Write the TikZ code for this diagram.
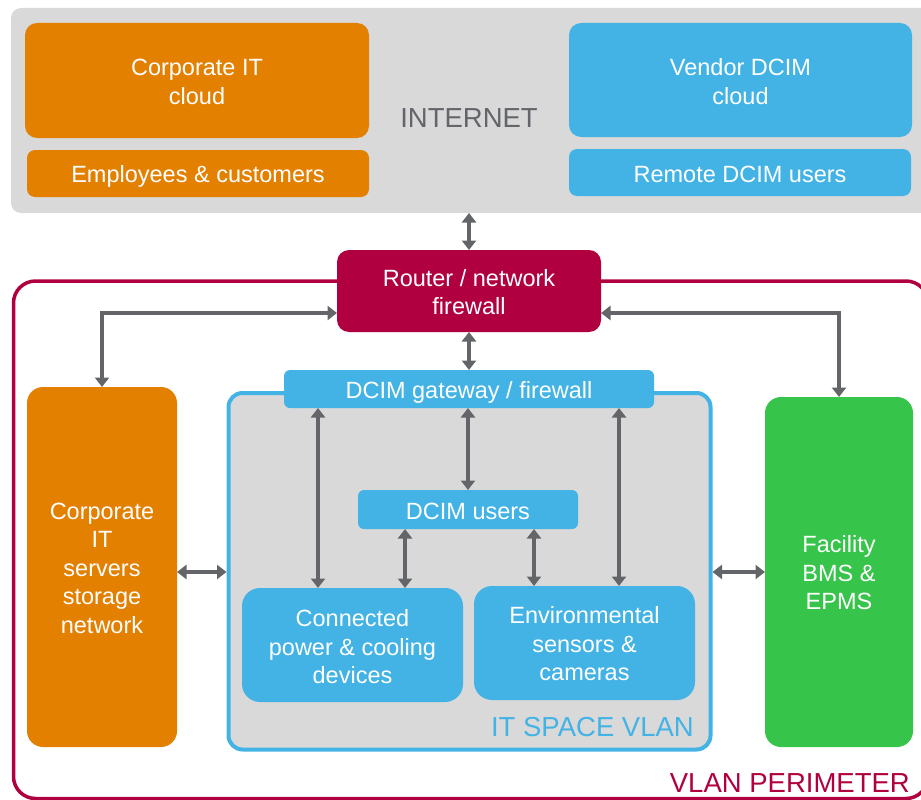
\documentclass[tikz,border=0pt]{standalone}
\usepackage{fontspec}
\setmainfont{Liberation Sans}
\usetikzlibrary{arrows.meta}
\definecolor{corange}{HTML}{E48000}
\definecolor{cblue}{HTML}{43B3E5}
\definecolor{ccrimson}{HTML}{B0003F}
\definecolor{cgreen}{HTML}{37C44A}
\definecolor{cgraybg}{HTML}{D9D9D9}
\definecolor{carrow}{HTML}{636569}
\definecolor{ctext}{HTML}{63656A}
\tikzset{
  box/.style={inner sep=0pt, outer sep=0pt},
  txt/.style={inner sep=0pt, align=center, text=white,
    font=\fontsize{23.5}{28.5}\selectfont},
  biglabel/.style={inner sep=0pt, font=\fontsize{27.5}{32}\selectfont},
  arr/.style={draw=carrow, line width=4.3pt, >={Triangle[length=9.5pt,width=14pt]}, <->},
}
\begin{document}
\begin{tikzpicture}[x=1pt,y=-1pt]
\useasboundingbox (0,0) rectangle (921,800);
\clip (0,0) rectangle (921,800);
% Internet area
\node[box, fill=cgraybg, rounded corners=10pt, minimum width=924pt, minimum height=205pt] (internet) at (473,110.5) {};
\node[biglabel, text=ctext] (internettxt) at (469,118.5) {INTERNET};
\node[box, fill=corange, rounded corners=12pt, minimum width=344pt, minimum height=115pt] (cloud) at (197,80.5) {};
\node[txt] (cloudtxt) at ([yshift=-1.5pt]cloud.center) {Corporate IT\\cloud};
\node[box, fill=corange, rounded corners=8pt, minimum width=342pt, minimum height=47pt] (emp) at (198,173.5) {};
\node[txt] (emptxt) at ([yshift=-2.5pt]emp.center) {Employees \& customers};
\node[box, fill=cblue, rounded corners=12pt, minimum width=343pt, minimum height=114pt] (vcloud) at (740.5,80) {};
\node[txt] (vcloudtxt) at ([yshift=-1.5pt]vcloud.center) {Vendor DCIM\\cloud};
\node[box, fill=cblue, rounded corners=8pt, minimum width=342pt, minimum height=47pt] (remote) at (740,172.5) {};
\node[txt] (remotetxt) at ([yshift=-2pt]remote.center) {Remote DCIM users};
% VLAN perimeter
\node[draw=ccrimson, line width=3.5pt, rounded corners=22pt, inner sep=0pt, minimum width=914.5pt, minimum height=517.5pt] (perimeter) at (470.75,539.75) {};
\node[biglabel, text=ccrimson, anchor=east] (perimtxt) at (910,783) {VLAN PERIMETER};
\node[box, fill=ccrimson, rounded corners=12pt, minimum width=264pt, minimum height=82pt] (router) at (469,291) {};
\node[txt] (routertxt) at ([yshift=-1pt]router.center) {Router / network\\firewall};
\node[box, fill=corange, rounded corners=16pt, minimum width=150pt, minimum height=360pt] (servers) at (102,567) {};
\node[txt] (serverstxt) at ([yshift=-1pt]servers.center) {Corporate\\IT\\servers\\storage\\network};
\node[box, fill=cgreen, rounded corners=16pt, minimum width=148pt, minimum height=350pt] (facility) at (839,572) {};
\node[txt] (facilitytxt) at ([yshift=-1pt]facility.center) {Facility\\BMS \&\\EPMS};
% IT space VLAN
\node[draw=cblue, fill=cgraybg, line width=4pt, rounded corners=14pt, inner sep=0pt, minimum width=482pt, minimum height=356.5pt] (itspace) at (469.5,571.25) {};
\node[biglabel, text=cblue, anchor=east] (itspacetxt) at (694,727) {IT SPACE VLAN};
\node[box, fill=cblue, rounded corners=6pt, minimum width=370pt, minimum height=38pt] (gw) at (469,389) {};
\node[txt] (gwtxt) at ([yshift=-3pt]gw.center) {DCIM gateway / firewall};
\node[box, fill=cblue, rounded corners=6pt, minimum width=220pt, minimum height=39pt] (users) at (468,509.5) {};
\node[txt] (userstxt) at ([yshift=-2pt]users.center) {DCIM users};
\node[box, fill=cblue, rounded corners=18pt, minimum width=221pt, minimum height=114pt] (conn) at (352.5,645) {};
\node[txt] (conntxt) at ([yshift=-2pt]conn.center) {Connected\\power \& cooling\\devices};
\node[box, fill=cblue, rounded corners=18pt, minimum width=221pt, minimum height=114pt] (env) at (584.5,643) {};
\node[txt] (envtxt) at ([yshift=-1pt]env.center) {Environmental\\sensors \&\\cameras};
% connectors
\draw[arr] (internet.south -| router.north) -- (router.north);
\draw[arr] (router.south) -- (gw.north);
\draw[arr] (router.west |- 0,313) -| (servers.north);
\draw[arr] (router.east |- 0,313) -| (facility.north);
\draw[arr] (gw.south -| 318,0) -- (conn.north -| 318,0);
\draw[arr] (gw.south -| users.north) -- (users.north);
\draw[arr] (gw.south -| 619,0) -- (env.north -| 619,0);
\draw[arr] (users.south -| 405,0) -- (conn.north -| 405,0);
\draw[arr] (users.south -| 534,0) -- (env.north -| 534,0);
\draw[arr] (servers.east |- 0,572) -- (itspace.west |- 0,572);
\draw[arr] (facility.west |- 0,572) -- (itspace.east |- 0,572);
\end{tikzpicture}
\end{document}
